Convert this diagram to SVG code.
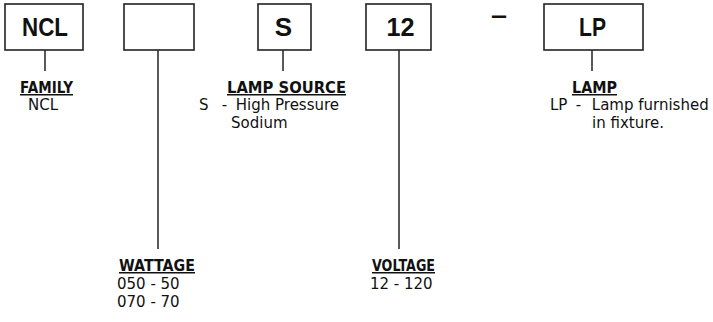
<svg xmlns="http://www.w3.org/2000/svg" width="713" height="322" viewBox="0 0 713 322">
<style>
.box{fill:#fff;stroke:#222;stroke-width:1.6}
.bt{font-family:"Liberation Sans",Arial,sans-serif;font-weight:bold;font-size:26px;fill:#111;text-anchor:middle}
.hd{font-family:"DejaVu Sans",Verdana,sans-serif;font-weight:bold;font-size:15px;fill:#111;text-decoration:underline}
.tx{font-family:"DejaVu Sans",Verdana,sans-serif;font-size:15px;fill:#111}
.ln{stroke:#222;stroke-width:1.5;fill:none}
</style>
<rect width="713" height="322" fill="#fff"/>
<g id="connectors">
<line class="ln" x1="45" y1="50" x2="45" y2="71"/>
<line class="ln" x1="158" y1="50" x2="158" y2="249"/>
<line class="ln" x1="283" y1="50" x2="283" y2="71"/>
<line class="ln" x1="399" y1="50" x2="399" y2="249"/>
<line class="ln" x1="592" y1="50" x2="592" y2="71"/>
</g>
<g id="family">
<rect class="box" x="5" y="4" width="78" height="46"/>
<text class="bt" x="45" y="36" textLength="46" lengthAdjust="spacingAndGlyphs">NCL</text>
<text class="hd" x="20" y="93" textLength="53" lengthAdjust="spacingAndGlyphs">FAMILY</text>
<text class="tx" x="43" y="110" text-anchor="middle">NCL</text>
</g>
<g id="wattage">
<rect class="box" x="124" y="4" width="70" height="46"/>
<text class="hd" x="119" y="271" textLength="76" lengthAdjust="spacingAndGlyphs">WATTAGE</text>
<text class="tx" x="117" y="289">050 - 50</text>
<text class="tx" x="117" y="307">070 - 70</text>
</g>
<g id="lamp-source">
<rect class="box" x="258" y="4" width="53" height="46"/>
<text class="bt" x="283.5" y="36">S</text>
<text class="hd" x="227" y="93" textLength="119" lengthAdjust="spacingAndGlyphs">LAMP SOURCE</text>
<text class="tx" y="110"><tspan x="199">S</tspan><tspan x="217"> -</tspan><tspan x="231"> High Pressure</tspan></text>
<text class="tx" x="231" y="128">Sodium</text>
</g>
<g id="voltage">
<rect class="box" x="366" y="4" width="65" height="46"/>
<text class="bt" x="400.5" y="36" textLength="28" lengthAdjust="spacingAndGlyphs">12</text>
<text class="hd" x="372" y="271" textLength="63" lengthAdjust="spacingAndGlyphs">VOLTAGE</text>
<text class="tx" x="370" y="289">12 - 120</text>
</g>
<g id="dash">
<text class="bt" x="499" y="24" textLength="16" lengthAdjust="spacingAndGlyphs">–</text>
</g>
<g id="lamp">
<rect class="box" x="544" y="4" width="99" height="46"/>
<text class="bt" x="592.5" y="36" textLength="27" lengthAdjust="spacingAndGlyphs">LP</text>
<text class="hd" x="572" y="93" textLength="45" lengthAdjust="spacingAndGlyphs">LAMP</text>
<text class="tx" y="110"><tspan x="550">LP</tspan><tspan x="571"> -</tspan><tspan x="587"> Lamp furnished</tspan></text>
<text class="tx" x="592" y="128">in fixture.</text>
</g>
</svg>
